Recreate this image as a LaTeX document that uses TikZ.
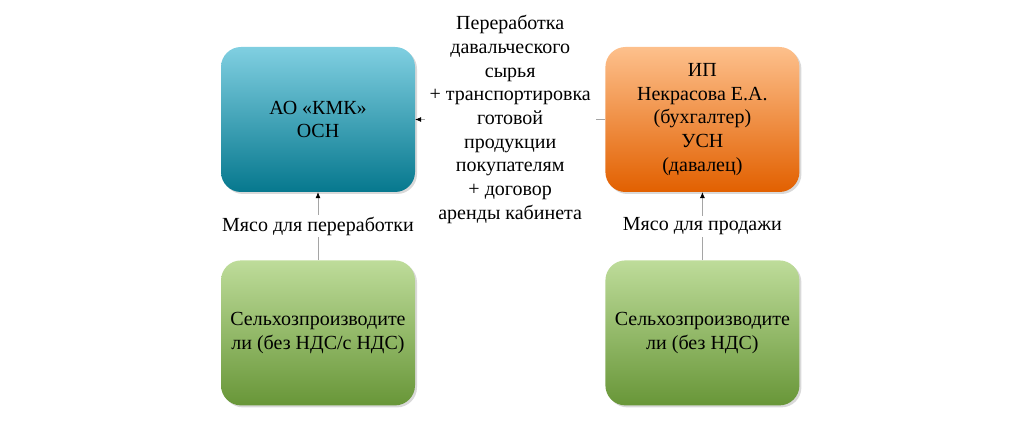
\documentclass[tikz,border=0pt]{standalone}
\usepackage{fontspec}
\setmainfont{Liberation Serif}
\usetikzlibrary{arrows.meta,positioning,shadows}
\definecolor{kmktop}{RGB}{128,207,225}
\definecolor{kmkmid}{RGB}{42,176,204}
\definecolor{kmkbot}{RGB}{6,120,142}
\definecolor{iptop}{RGB}{253,192,140}
\definecolor{ipmid}{RGB}{244,134,32}
\definecolor{ipbot}{RGB}{226,96,0}
\definecolor{seltop}{RGB}{190,220,154}
\definecolor{selmid}{RGB}{150,192,98}
\definecolor{selbot}{RGB}{104,150,56}
\definecolor{linkgray}{RGB}{165,165,165}

\begin{document}
\begin{tikzpicture}[x=1pt,y=1pt,>={Latex[color=black,length=6pt,width=5pt]},node distance=68pt and 190pt,font=\fontsize{20}{23.7}\selectfont]
\tikzstyle{b}=[rounded corners=20pt,align=center,minimum width=194pt,minimum height=145pt,drop shadow={opacity=.3,shadow xshift=2pt,shadow yshift=-2pt}]
\tikzstyle{lnk}=[draw=linkgray,line width=.6pt,->]
\tikzstyle{lbl}=[fill=white,align=center,inner sep=5pt]
\useasboundingbox (0,0) rectangle (1024,434);
\node[b,top color=kmktop,middle color=kmkmid,bottom color=kmkbot] (kmk) at (318,314.5) {АО «КМК»\\ОСН};
\node[b,right=of kmk,top color=iptop,middle color=ipmid,bottom color=ipbot] (ip) {ИП\\Некрасова Е.А.\\(бухгалтер)\\УСН\\(давалец)};
\node[b,below=of kmk,top color=seltop,middle color=selmid,bottom color=selbot] (selL) {Сельхозпроизводите\\ли (без НДС/с НДС)};
\node[b,below=of ip,top color=seltop,middle color=selmid,bottom color=selbot] (selR) {Сельхозпроизводите\\ли (без НДС)};
\draw[lnk] (ip) -- node[lbl] {Переработка\\давальческого\\сырья\\+ транспортировка\\готовой\\продукции\\покупателям\\+ договор\\аренды кабинета} (kmk);
\draw[lnk] (selL) -- node[lbl,inner sep=2pt] {Мясо для переработки} (kmk);
\draw[lnk] (selR) -- node[lbl,inner sep=2pt] {Мясо для продажи} (ip);
\end{tikzpicture}
\end{document}
